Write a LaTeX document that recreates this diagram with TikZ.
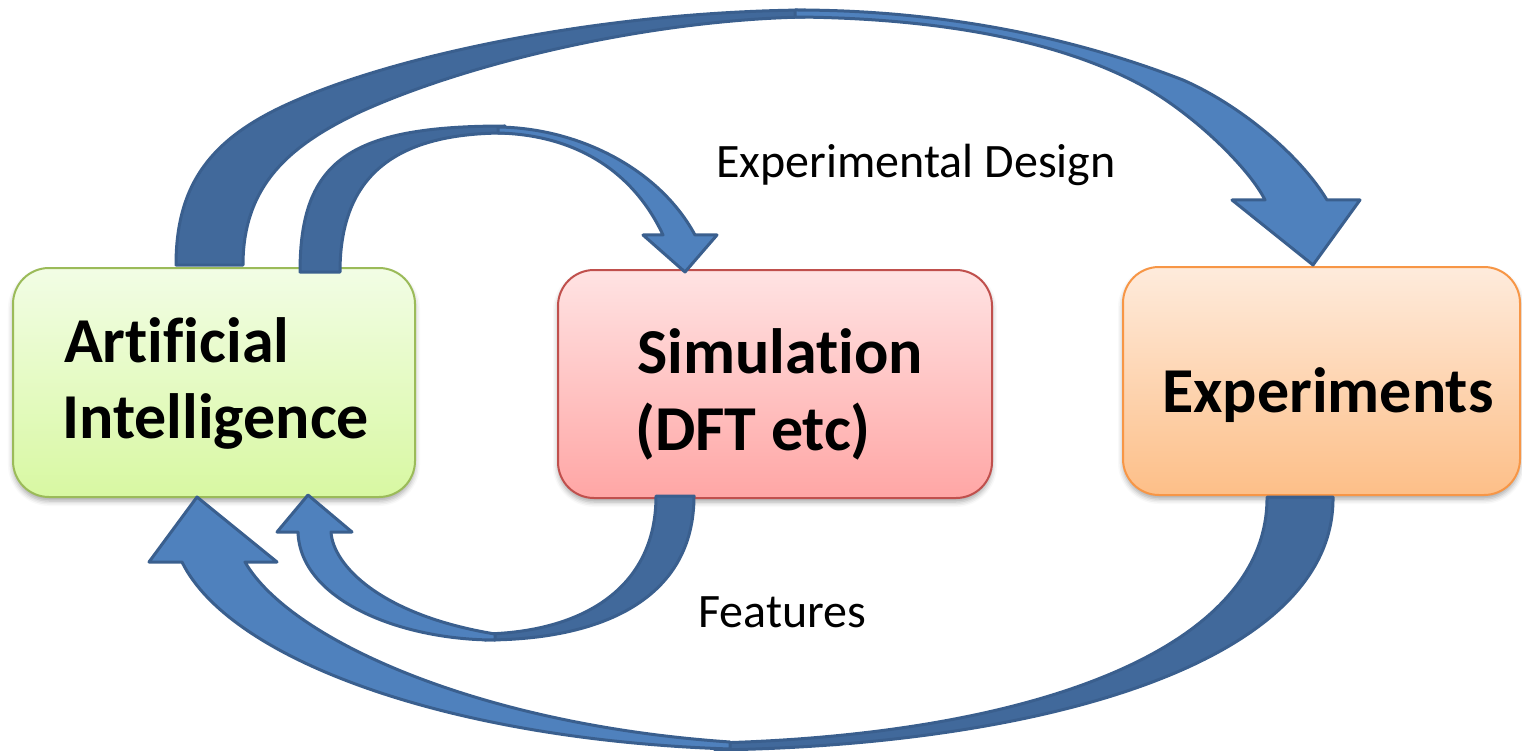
\documentclass[tikz,border=0pt]{standalone}
\usepackage{fontspec}
\setmainfont{Carlito}[Ligatures=NoCommon]
\usetikzlibrary{shadows.blur}
\definecolor{arrowlight}{HTML}{4F81BD}
\definecolor{arrowdark}{HTML}{41699B}
\definecolor{arrowline}{HTML}{3A5F8E}
\definecolor{ailine}{HTML}{9BBB59}
\definecolor{aitop}{HTML}{F2FDE5}
\definecolor{aibot}{HTML}{D8F8A2}
\definecolor{simline}{HTML}{C0504D}
\definecolor{simtop}{HTML}{FFE3E3}
\definecolor{simbot}{HTML}{FFA6A5}
\definecolor{expline}{HTML}{F79646}
\definecolor{exptop}{HTML}{FEEBDC}
\definecolor{expbot}{HTML}{FDBF88}
\tikzset{
  box/.style={rounded corners=36pt, line width=2pt, inner sep=0pt,
    blur shadow={shadow xshift=0pt, shadow yshift=-4pt, shadow blur radius=5pt, shadow opacity=35}},
  bigtext/.style={font=\bfseries\fontsize{64}{77}\selectfont, inner sep=0pt, anchor=base west},
  smalltext/.style={font=\fontsize{48}{58}\selectfont, inner sep=0pt, anchor=base west},
  backpart/.style={fill=arrowdark, draw=arrowline, line width=3pt, line join=round},
  frontpart/.style={fill=arrowlight, draw=arrowline, line width=3pt, line join=round}
}
\begin{document}
\begin{tikzpicture}[x=1pt,y=-1pt]
\useasboundingbox (0,0) rectangle (1522,751);

% boxes
\node[box, draw=ailine, top color=aitop, bottom color=aibot, minimum width=402pt, minimum height=229pt] (ai) at (214,382.5) {};
\node[box, draw=simline, top color=simtop, bottom color=simbot, minimum width=434pt, minimum height=228pt] (sim) at (775,384) {};
\node[box, draw=expline, top color=exptop, bottom color=expbot, minimum width=397pt, minimum height=228pt] (exp) at (1321.5,381) {};

% box texts
\node[bigtext] (ai1) at (64,362) {Artificial};
\node[bigtext] (ai2) at (62,438) {Intelligence};
\node[bigtext] (sim1) at (637,373) {Simulation};
\node[bigtext] (sim2) at (635,450) {(DFT etc)};
\node[bigtext] (exp1) at (1162,412) {Experiments};

% labels
\node[smalltext] (design) at (716,178) {Experimental Design};
\node[smalltext] (features) at (698,627) {Features};

% arrow 1: AI -> Experiments (top, outer)
\draw[backpart] (176,265) .. controls (176,180) and (215,135) .. (297,100)
  .. controls (400,55) and (600,12) .. (805,10) -- (805,17)
  .. controls (650,20) and (470,62) .. (360,112)
  .. controls (290,145) and (243,185) .. (243,265) -- cycle;
\draw[frontpart] (795,10) .. controls (950,10) and (1080,40) .. (1183,80)
  .. controls (1240,105) and (1300,155) .. (1327,200)
  -- (1360,200) -- (1313,265) -- (1232,200) -- (1265,200)
  .. controls (1250,170) and (1200,120) .. (1150,90)
  .. controls (1060,38) and (930,18) .. (795,17) -- cycle;

% arrow 2: AI -> Simulation (top, inner)
\draw[backpart] (300,272) .. controls (300,160) and (350,126) .. (505,126)
  -- (505,133) .. controls (390,133) and (340,180) .. (340,272) -- cycle;
\draw[frontpart] (498,127) .. controls (580,128) and (660,170) .. (695,235)
  -- (717,235) -- (685,272) -- (643,235) -- (663,235)
  .. controls (635,175) and (580,135) .. (498,133) -- cycle;

% arrow 3: Simulation -> AI (bottom, inner)
\draw[backpart] (694,496) .. controls (694,600) and (600,640) .. (485,640)
  -- (485,634) .. controls (580,632) and (656,590) .. (656,496) -- cycle;
\draw[frontpart] (495,640) .. controls (400,640) and (300,600) .. (298,532)
  -- (277,532) -- (308,495) -- (352,532) -- (331,532)
  .. controls (333,565) and (380,615) .. (495,634) -- cycle;

% arrow 4: Experiments -> AI (bottom, outer)
\draw[backpart] (1333,497) .. controls (1335,660) and (1050,745) .. (715,750)
  -- (715,743) .. controls (1030,735) and (1268,650) .. (1267,497) -- cycle;
\draw[frontpart] (730,749) .. controls (450,740) and (230,660) .. (182,562)
  -- (149,562) -- (197,497) -- (277,562) -- (245,562)
  .. controls (290,640) and (480,725) .. (730,742) -- cycle;
\end{tikzpicture}
\end{document}
